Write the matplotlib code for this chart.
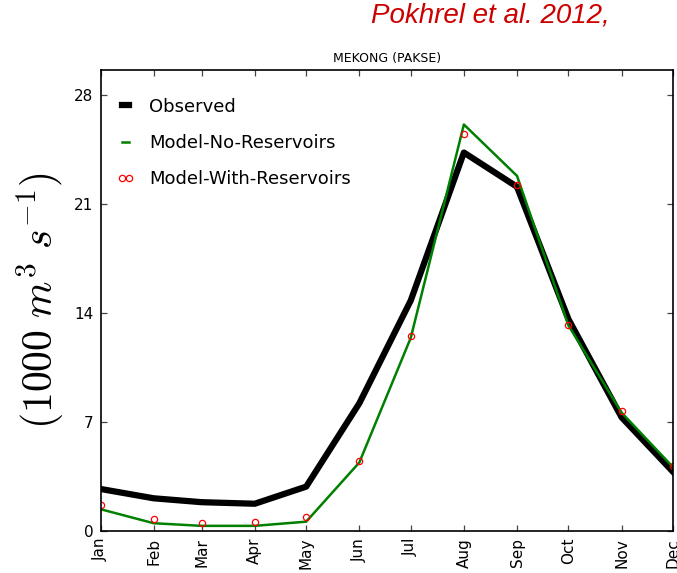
import numpy as np
from matplotlib import pyplot as plt
import matplotlib

matplotlib.use('Agg')
plt.rcParams['mathtext.fontset'] = 'cm'

months = ['Jan', 'Feb', 'Mar', 'Apr', 'May', 'Jun', 'Jul', 'Aug', 'Sep', 'Oct', 'Nov', 'Dec']
# first day of each month (day of year, starting at 0)
month_days = [0, 31, 59, 90, 120, 151, 181, 212, 243, 273, 304, 334]

observed = [2.7, 2.1, 1.85, 1.75, 2.85, 8.2, 14.8, 24.3, 22.1, 13.6, 7.3, 3.8]
no_reservoirs = [1.4, 0.5, 0.33, 0.33, 0.6, 4.4, 12.4, 26.1, 22.8, 13.2, 7.6, 4.1]
with_reservoirs = [1.65, 0.78, 0.52, 0.55, 0.9, 4.5, 12.5, 25.5, 22.2, 13.2, 7.7, 4.2]

fig = plt.figure(figsize=(6.77, 5.73), dpi=100)
ax = fig.add_axes([100.5 / 677, 1 - 531 / 573, 572.5 / 677, 461 / 573])

ax.plot(month_days, observed, color='black', lw=4.5, label='Observed')
ax.plot(month_days, no_reservoirs, color='green', lw=1.8, label='Model-No-Reservoirs')
ax.plot(month_days, with_reservoirs, ls='none', marker='o', ms=4.5, mfc='none',
        mec='red', mew=0.9, label='Model-With-Reservoirs')

ax.set_xlim(0, 334)
ax.set_ylim(0, 29.6)
ax.set_xticks(month_days)
ax.set_xticklabels(months, rotation=90, fontsize=11)
ax.set_yticks([0, 7, 14, 21, 28])
ax.tick_params(axis='y', labelsize=11)
ax.tick_params(direction='in', top=True, right=True, length=4, width=0.9,
               color='#444444', pad=5)
for s in ax.spines.values():
    s.set_linewidth(1.2)

ax.set_ylabel(r'$(1000\ m^3\ s^{-1})$', fontsize=30, labelpad=6)
ax.set_title('MEKONG (PAKSE)', fontsize=9, pad=6)

leg = ax.legend(loc='upper left', frameon=False, fontsize=13, numpoints=2,
                handlelength=1.0, labelspacing=1.0, handletextpad=0.8,
                bbox_to_anchor=(0.0, 0.975))

fig.text(490 / 677, 1 - 16 / 573, 'Pokhrel et al. 2012,', color='#cc0000',
         fontsize=20, style='italic', family='Liberation Sans',
         ha='center', va='center')

plt.savefig('out.png', dpi=100)
